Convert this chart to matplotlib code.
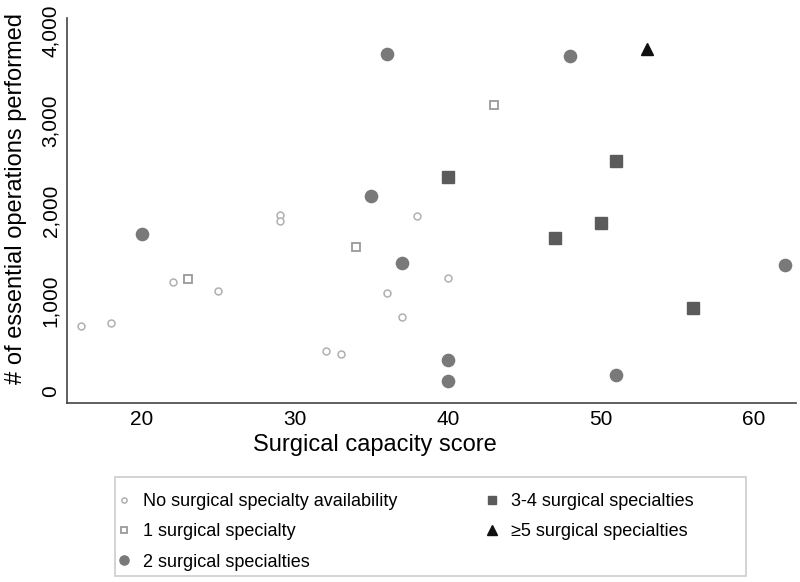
import numpy as np
import matplotlib.pyplot as plt
from matplotlib.patches import Rectangle
from matplotlib.ticker import FuncFormatter

plt.rcParams['font.family'] = ['Liberation Sans', 'DejaVu Sans']

# capacity score / number of essential operations, by specialty group
none_x = [16, 18, 22, 25, 29, 29, 32, 33, 36, 37, 38, 40]
none_y = [725, 755, 1205, 1115, 1950, 1890, 445, 410, 1085, 825, 1940, 1260]
one_x = [23, 34, 43]
one_y = [1240, 1595, 3180]
two_x = [20, 35, 36, 37, 40, 40, 48, 51, 62]
two_y = [1745, 2170, 3750, 1425, 340, 105, 3720, 175, 1395]
three_x = [40, 47, 50, 51, 56]
three_y = [2375, 1695, 1870, 2550, 920]
five_x = [53]
five_y = [3800]

labels = ['No surgical specialty availability', '1 surgical specialty',
          '2 surgical specialties', '3-4 surgical specialties',
          '\u22655 surgical specialties']

W, H = 800, 582
fig = plt.figure(figsize=(W / 100, H / 100), dpi=100)
ax = fig.add_axes([67 / W, 1 - 403 / H, 729 / W, 385 / H])

ax.plot(none_x, none_y, 'o', ms=5, mfc='white', mec='#b0b0b0', mew=1.1, ls='none', label=labels[0])
ax.plot(one_x, one_y, 's', ms=5.5, mfc='white', mec='#9a9a9a', mew=1.3, ls='none', label=labels[1])
ax.plot(two_x, two_y, 'o', ms=8.8, mfc='#797979', mec='#797979', ls='none', label=labels[2])
ax.plot(three_x, three_y, 's', ms=8.4, mfc='#5b5b5b', mec='#5b5b5b', ls='none', label=labels[3])
ax.plot(five_x, five_y, '^', ms=9, mfc='#111111', mec='#111111', ls='none', label=labels[4])

ax.set_xlim(15.1, 62.75)
ax.set_ylim(-135, 4145)
ax.set_xticks([20, 30, 40, 50, 60])
ax.set_yticks([0, 1000, 2000, 3000, 4000])
ax.yaxis.set_major_formatter(FuncFormatter(lambda v, p: f'{int(v):,}'))
ax.tick_params(length=0, labelsize=15)
ax.tick_params(axis='x', pad=5)
ax.tick_params(axis='y', pad=5)
for t in ax.get_yticklabels():
    t.set_rotation(90)
    t.set_va('center')

for s in ['top', 'right']:
    ax.spines[s].set_visible(False)
for s in ['left', 'bottom']:
    ax.spines[s].set_color('#444444')
    ax.spines[s].set_linewidth(1.2)

ax.set_xlabel('Surgical capacity score', fontsize=17)
ax.set_ylabel('# of essential operations performed', fontsize=17)
ax.xaxis.set_label_coords((375 - 67) / 729, (403 - 434) / 385)
ax.yaxis.set_label_coords((27 - 67) / 729, (403 - 198) / 385)

# legend frame drawn by hand, entries placed without frame
fig.patches.append(Rectangle((115 / W, 1 - 576 / H), 631 / W, 99 / H,
                             transform=fig.transFigure, fill=False,
                             edgecolor='#cccccc', linewidth=1.2))
leg = fig.legend(loc='upper left', bbox_to_anchor=(118.5 / W, 1 - 493 / H), ncol=2,
                 fontsize=13, markerscale=0.75, frameon=False,
                 handlelength=0.6, handletextpad=0.75, borderpad=0, borderaxespad=0,
                 columnspacing=4.95, labelspacing=0.74)

fig.savefig('out.png', dpi=100)
